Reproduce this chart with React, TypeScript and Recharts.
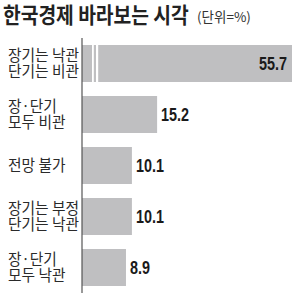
import React from "react";
import { BarChart, Bar, XAxis, YAxis, LabelList } from "recharts";

const categories = [
  "장기는 낙관\n단기는 비관",
  "장·단기\n모두 비관",
  "전망 불가",
  "장기는 부정\n단기는 낙관",
  "장·단기\n모두 낙관",
];
const values = [55.7, 15.2, 10.1, 10.1, 8.9];
const title = "한국경제 바라보는 시각";
const unit = "(단위=%)";

const data = categories.map((c, i) => ({ name: c, value: values[i] }));

const W = 300;
const H = 293;
const MARGIN = { top: 38, right: 8, bottom: 0, left: 0 };
const PLOT_RIGHT = W - MARGIN.right;
const X_MAX = 42.5;
const BAR_COLOR = "#bfbfc1";
const KR = "'Noto Sans CJK KR', 'Noto Sans', sans-serif";
const NUM = "'Liberation Sans', Arial, sans-serif";

const BarShape = (props: any) => {
  const { x, y, height, width, value } = props;
  const over = value > X_MAX;
  const w = Math.min(width, PLOT_RIGHT - x);
  return (
    <g>
      <rect x={x} y={y} width={w} height={height} fill={BAR_COLOR} />
      {over && (
        <>
          <rect x={x + 10} y={y} width={1.8} height={height} fill="#fff" />
          <rect x={x + 14} y={y} width={2.2} height={height} fill="#fff" />
        </>
      )}
    </g>
  );
};

const ValueLabel = (props: any) => {
  const { x, y, width, height, value } = props;
  const over = value > X_MAX;
  const cy = y + height / 2;
  const tx = over ? PLOT_RIGHT - 5 : x + width + 4;
  return (
    <text
      transform={`translate(${tx}, ${cy + 6.5}) scale(0.8, 1)`}
      textAnchor={over ? "end" : "start"}
      fontFamily={NUM}
      fontWeight={700}
      fontSize={18}
      fill="#1a1a1a"
    >
      {value}
    </text>
  );
};

const CatTick = (props: any) => {
  const { y, payload } = props;
  const lines: string[] = String(payload.value).split("\n");
  const lh = 16;
  const start = y - ((lines.length - 1) * lh) / 2;
  return (
    <g>
      {lines.map((l, i) => (
        <text
          key={i}
          transform={`translate(8, ${start + i * lh + 5.5}) scale(0.95, 1)`}
          textAnchor="start"
          fontFamily={KR}
          fontSize={15.5}
          fill="#2a2a2a"
        >
          {l}
        </text>
      ))}
    </g>
  );
};

export default function App() {
  return (
    <div style={{ position: "absolute", left: 0, top: 0, width: W, height: H, background: "#fff" }}>
      <svg width={W} height={36} style={{ position: "absolute", left: 0, top: 0 }}>
        <text
          transform="translate(3, 23) scale(0.875, 1)"
          fontFamily={KR}
          fontWeight={700}
          fontSize={22}
          fill="#222"
        >
          {title}
        </text>
        <text
          transform="translate(197, 22)"
          fontFamily={KR}
          fontSize={13.5}
          fill="#333"
        >
          {unit}
        </text>
      </svg>
      <div style={{ position: "absolute", left: 0, top: 0 }}>
        <BarChart width={W} height={H} data={data} layout="vertical" margin={MARGIN} barSize={37}>
          <XAxis type="number" hide domain={[0, X_MAX]} allowDataOverflow />
          <YAxis
            type="category"
            dataKey="name"
            width={82}
            axisLine={{ stroke: "#555", strokeWidth: 1.2 }}
            tickLine={false}
            tick={<CatTick />}
            interval={0}
          />
          <Bar dataKey="value" isAnimationActive={false} shape={<BarShape />}>
            <LabelList dataKey="value" content={<ValueLabel />} />
          </Bar>
        </BarChart>
      </div>
    </div>
  );
}
